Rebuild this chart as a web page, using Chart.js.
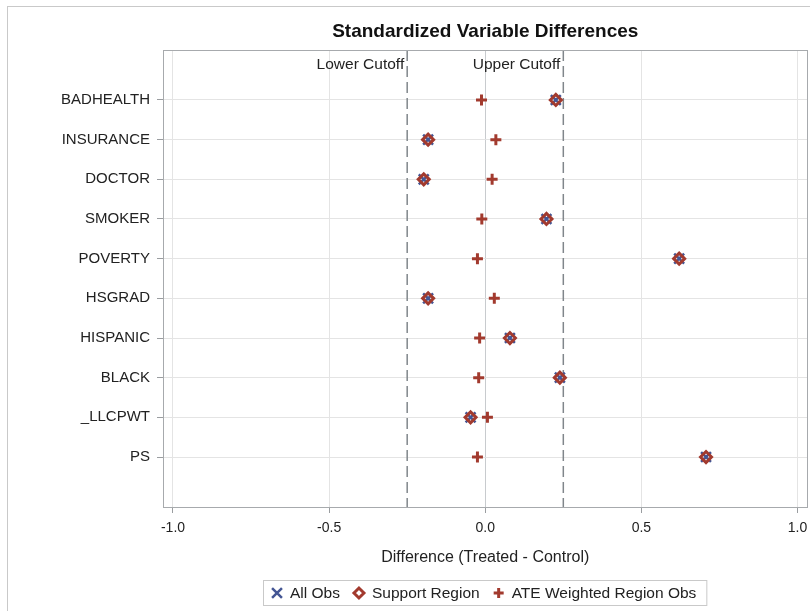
<!DOCTYPE html>
<html><head><meta charset="utf-8">
<script src="https://cdn.jsdelivr.net/npm/chart.js@4/dist/chart.umd.min.js"></script>
<style>html,body{margin:0;padding:0;background:#fff;overflow:hidden;width:810px;height:611px}
#wrap{position:absolute;left:0;top:0;width:817px;height:611px}
</style></head><body><div id="wrap"><canvas id="c" width="817" height="611"></canvas></div>
<script>
const categories = ['BADHEALTH','INSURANCE','DOCTOR','SMOKER','POVERTY','HSGRAD','HISPANIC','BLACK','_LLCPWT','PS'];
const allObs = [0.226,-0.183,-0.197,0.196,0.621,-0.183,0.079,0.239,-0.047,0.707];
const supportRegion = [0.226,-0.183,-0.197,0.196,0.621,-0.183,0.079,0.239,-0.047,0.707];
const ateWeighted = [-0.012,0.034,0.022,-0.011,-0.025,0.029,-0.018,-0.021,0.007,-0.025];
const cutoffs = [-0.25, 0.25];
const cutoffLabels = ['Lower Cutoff','Upper Cutoff'];
const xTicks = [-1.0,-0.5,0.0,0.5,1.0];
const titleText = 'Standardized Variable Differences';
const xTitle = 'Difference (Treated - Control)';

const FONT = '"Liberation Sans", Arial, sans-serif';
const TXT = '#222';
const BLUE = '#445694';
const RED = '#A23A2E';
const Y_MIN = -1.26, Y_MAX = 10.26;

Chart.defaults.font.family = FONT;
Chart.defaults.color = TXT;

const pts = arr => arr.map((v,i)=>({x:v,y:i}));

function drawMarker(ctx, ds, x, y){
  ctx.save();
  ctx.strokeStyle = ds.borderColor;
  ctx.fillStyle = 'rgba(0,0,0,0)';
  ctx.lineWidth = ds.borderWidth;
  Chart.helpers.drawPoint(ctx, {pointStyle:ds.pointStyle, radius:ds.pointRadius, borderWidth:ds.borderWidth, rotation:0}, x, y);
  ctx.restore();
}

const frame = {
  id:'frame',
  beforeDraw(chart){
    const {ctx} = chart;
    ctx.save();
    ctx.strokeStyle = '#c9c9c9'; ctx.lineWidth = 1;
    ctx.strokeRect(7.5, 6.5, 820, 620);
    ctx.restore();
  },
  afterDatasetsDraw(chart){
    const {ctx, chartArea:a, scales} = chart;
    ctx.save();
    ctx.strokeStyle = '#a7aaad'; ctx.lineWidth = 1;
    ctx.strokeRect(Math.round(a.left)+0.5, Math.round(a.top)+0.5, Math.round(a.right-a.left)-1, Math.round(a.bottom-a.top));
    // title
    ctx.fillStyle = '#111';
    ctx.font = 'bold 19px ' + FONT;
    ctx.textAlign = 'center'; ctx.textBaseline = 'middle';
    ctx.fillText(titleText, (a.left+a.right)/2, 32);
    // cutoff labels
    ctx.font = '15.5px ' + FONT; ctx.fillStyle = TXT;
    ctx.textAlign = 'right';
    cutoffs.forEach((c,i)=>{
      const x = scales.x.getPixelForValue(c);
      ctx.fillText(cutoffLabels[i], x-3, 65);
    });
    // legend
    ctx.font = '15.5px ' + FONT;
    const left = 263, top = 580, h = 25;
    let x = left + 14;
    const pos = [];
    [0,1,2].forEach(i=>{
      const ds = chart.data.datasets[i];
      const w = ctx.measureText(ds.label).width;
      pos.push({mx:x, tx:x+13, ds});
      x = x + 13 + w + 19;
    });
    const right = x - 19 + 10;
    ctx.strokeStyle = '#c9c9c9'; ctx.lineWidth = 1;
    ctx.strokeRect(left+0.5, top+0.5, right-left, h);
    pos.forEach(p=>{
      const lds = Object.assign({}, p.ds, {pointRadius: p.ds.pointStyle==='crossRot'?7:p.ds.pointRadius-0.5});
      drawMarker(ctx, lds, p.mx, top+h/2+0.5);
      ctx.fillStyle = TXT; ctx.textAlign='left'; ctx.textBaseline='middle';
      ctx.fillText(p.ds.label, p.tx, top+h/2+1);
    });
    ctx.restore();
  }
};

new Chart(document.getElementById('c'), {
  type:'scatter',
  data:{
    datasets:[
      {label:'All Obs', data:pts(allObs), pointStyle:'crossRot', pointRadius:7, pointHoverRadius:7, borderColor:BLUE, backgroundColor:BLUE, borderWidth:2.5, order:3},
      {label:'Support Region', data:pts(supportRegion), pointStyle:'rectRot', pointRadius:5.5, pointHoverRadius:5.5, borderColor:RED, backgroundColor:'rgba(0,0,0,0)', borderWidth:3, order:2},
      {label:'ATE Weighted Region Obs', data:pts(ateWeighted), pointStyle:'cross', pointRadius:5.5, pointHoverRadius:5.5, borderColor:RED, backgroundColor:RED, borderWidth:3, order:1},
      ...cutoffs.map(c=>({type:'line', label:'cut', data:[{x:c,y:Y_MIN},{x:c,y:Y_MAX}], borderColor:'#80868b', borderWidth:1.5, borderDash:[11,5], pointRadius:0, order:5}))
    ]
  },
  options:{
    responsive:false, animation:false, events:[],
    layout:{padding:{left:0,right:3,top:50,bottom:41}},
    plugins:{legend:{display:false}, tooltip:{enabled:false}, title:{display:false}},
    scales:{
      x:{type:'linear', min:-1.032, max:1.032,
        afterBuildTicks(s){ s.ticks = xTicks.map(v=>({value:v})); },
        afterFit(s){ s.height = 63; },
        ticks:{font:{size:14}, color:TXT, padding:7, callback:v=>v.toFixed(1)},
        grid:{color:(c)=> c.tick && c.tick.value===0 ? '#c8cbce' : '#e4e4e4', tickColor:'#9a9da0', tickLength:6, drawOnChartArea:true},
        border:{color:'#a7aaad'},
        title:{display:true, text:xTitle, font:{size:16}, color:TXT, padding:{top:0,bottom:3}}
      },
      y:{type:'linear', reverse:true, min:Y_MIN, max:Y_MAX,
        afterBuildTicks(s){ s.ticks = categories.map((c,i)=>({value:i})); },
        afterFit(s){ s.width = 163; },
        ticks:{font:{size:15}, color:TXT, padding:7, callback:(v)=>categories[v]},
        grid:{color:'#e4e4e4', tickColor:'#9a9da0', tickLength:6},
        border:{color:'#a7aaad'}
      }
    }
  },
  plugins:[frame]
});
</script></body></html>
